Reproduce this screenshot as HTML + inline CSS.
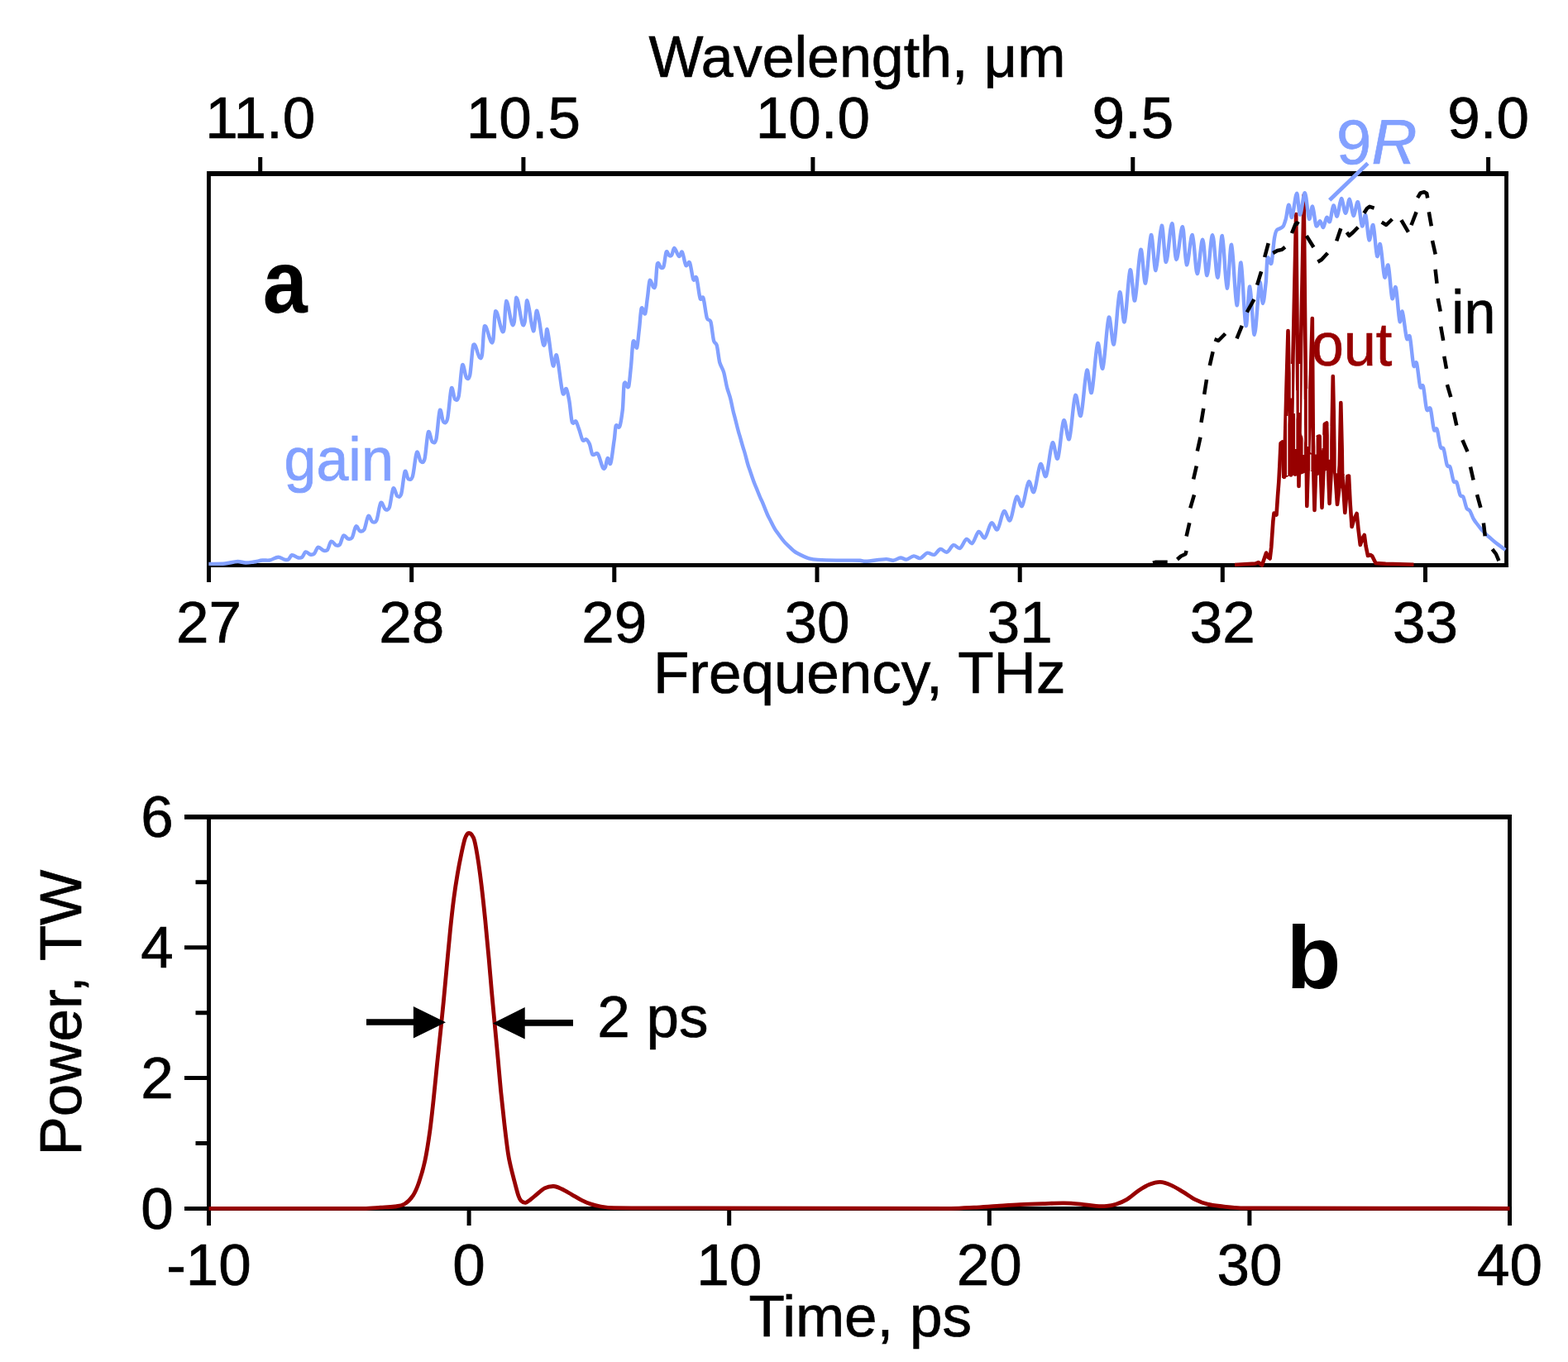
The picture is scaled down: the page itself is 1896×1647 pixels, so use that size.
<!DOCTYPE html>
<html lang="en"><head><meta charset="utf-8"><title>Gain spectrum and pulse</title>
<style>html,body{margin:0;padding:0;background:#fff;overflow:hidden}svg{display:block}text{font-family:"Liberation Sans", Arial, Helvetica, sans-serif;stroke:#000;stroke-width:0.7px} text.bf{stroke:none} text.bl{stroke:#82A0FF} text.rd{stroke:#970000}</style></head><body>
<svg width="1896" height="1647" viewBox="0 0 1896 1647">
<rect width="1896" height="1647" fill="#fff"/>
<path d="M250,210H1824" stroke="#000" stroke-width="6"/>
<path d="M250,683.45H1824" stroke="#000" stroke-width="5.1"/>
<path d="M252.45,207V686" stroke="#000" stroke-width="4.9"/>
<path d="M1821.5,207V686" stroke="#000" stroke-width="4.8"/>
<path d="M252.5,683.5V704M497.7,683.5V704M742.8,683.5V704M988.0,683.5V704M1233.2,683.5V704M1478.3,683.5V704M1723.5,683.5V704M314.7,210.0V190M632.9,210.0V190M982.9,210.0V190M1369.8,210.0V190M1799.6,210.0V190" stroke="#000" stroke-width="5"/>
<polygon points="1549.0,540.0 1553.0,540.0 1556.0,520.0 1559.0,500.0 1562.0,500.0 1566.0,500.0 1571.4,520.0 1576.0,530.0 1581.2,545.0 1586.0,548.0 1591.0,552.0 1595.0,540.0 1599.0,545.0 1603.0,535.0 1607.5,558.0 1611.5,540.0 1616.3,573.0 1621.0,545.0 1626.0,588.0 1630.0,585.0 1630.0,598.0 1620.9,590.0 1611.6,571.0 1603.4,569.0 1593.5,575.0 1584.3,569.0 1575.0,573.0 1566.0,576.0 1561.5,574.0 1556.0,577.0 1550.0,578.0" fill="#970000"/>
<polyline points="1493.0,683.0 1518.0,681.5 1521.6,680.0 1526.0,683.5 1531.1,668.5 1533.5,674.0 1535.6,675.5 1537.2,662.0 1539.4,630.0 1540.5,620.5 1543.5,622.5 1545.0,600.0 1546.3,583.0 1547.5,560.0 1548.6,536.0 1550.5,534.5 1552.2,536.0 1552.8,577.0 1555.5,470.0 1557.5,400.0 1561.0,574.5 1563.5,430.0 1567.2,259.0 1570.5,588.0 1573.0,420.0 1576.6,236.0 1580.3,612.0 1583.0,520.0 1586.8,385.0 1588.0,560.0 1589.5,617.0 1591.8,548.0 1593.6,528.0 1595.6,527.5 1597.0,572.0 1598.5,614.0 1600.6,565.0 1601.8,513.0 1604.2,511.5 1605.5,552.0 1607.6,609.0 1609.6,572.0 1611.8,455.0 1614.2,568.0 1617.0,610.0 1619.2,592.0 1621.3,487.0 1623.5,578.0 1626.3,620.0 1628.2,598.0 1629.3,576.0 1631.0,575.5 1632.6,608.0 1634.6,637.0 1637.2,628.0 1640.6,621.0 1642.5,640.0 1644.8,659.0 1647.5,651.0 1649.8,647.0 1651.5,660.0 1654.0,672.0 1657.0,671.0 1659.3,672.5 1661.0,676.0 1663.5,681.0 1675.5,681.8 1709.5,682.8" fill="none" stroke="#970000" stroke-width="4.6" stroke-linejoin="round"/>
<path d="M1561.4,440.0V481.6M1566.7,472.0V543.0M1571.4,440.0V499.0M1576.2,483.0V550.0M1581.4,470.0V540.0M1556.7,503.0V575.0M1584.8,549.5V569.0M1591.0,528.0V549.5M1598.9,525.7V542.0M1607.5,515.0V555.7M1616.3,495.0V572.2M1626.2,540.0V573.0" stroke="#fff" stroke-width="1.3"/>
<path d="M252.40,681.90C258.93,681.79 265.47,681.96 272.00,681.50C277.17,681.14 282.33,679.18 287.50,679.00C290.67,678.89 293.83,680.43 297.00,680.50C300.33,680.57 303.67,679.91 307.00,679.50C310.50,679.06 314.00,677.81 317.50,677.50C320.33,677.25 323.17,677.98 326.00,677.50C329.50,676.90 333.00,673.79 336.50,673.70C339.33,673.62 342.17,676.37 345.00,676.90C346.30,677.15 347.60,677.25 348.90,676.45C350.20,675.66 351.50,671.48 352.80,671.30C355.47,670.93 358.13,674.02 360.80,674.50C362.25,674.76 363.70,674.94 365.15,673.93C366.60,672.93 368.05,667.83 369.50,667.40C371.33,666.86 373.17,670.13 375.00,670.50C376.58,670.82 378.17,671.04 379.75,669.80C381.33,668.57 382.92,662.25 384.50,661.80C386.87,661.12 389.23,665.25 391.60,665.80C393.05,666.13 394.50,666.48 395.95,664.91C397.40,663.34 398.85,655.33 400.30,654.70C402.40,653.79 404.50,658.86 406.60,659.50C408.05,659.95 409.50,660.23 410.95,658.55C412.40,656.86 413.85,648.47 415.30,647.60C417.17,646.48 419.03,651.09 420.90,651.50C422.48,651.85 424.07,652.42 425.65,650.30C427.23,648.17 428.82,637.67 430.40,636.50C431.97,635.34 433.53,641.54 435.10,642.10C436.82,642.71 438.53,643.22 440.25,640.64C441.97,638.07 443.68,625.31 445.40,623.90C447.00,622.58 448.60,630.28 450.20,631.00C451.90,631.77 453.60,632.42 455.30,629.16C457.00,625.90 458.70,609.78 460.40,608.00C462.27,606.05 464.13,615.09 466.00,616.00C467.58,616.78 469.17,617.57 470.75,613.97C472.33,610.37 473.92,592.53 475.50,590.60C477.17,588.57 478.83,598.97 480.50,600.00C482.03,600.95 483.57,601.85 485.10,597.60C486.63,593.35 488.17,572.85 489.70,570.00C491.00,567.58 492.30,578.22 493.60,579.00C495.33,580.04 497.07,580.98 498.80,576.43C500.53,571.88 502.27,549.57 504.00,546.90C505.63,544.38 507.27,556.87 508.90,558.10C510.40,559.23 511.90,560.30 513.40,555.25C514.90,550.21 516.40,525.33 517.90,522.50C519.53,519.42 521.17,533.10 522.80,534.40C524.32,535.60 525.83,536.77 527.35,531.33C528.87,525.89 530.38,499.14 531.90,496.00C533.30,493.10 534.70,508.59 536.10,510.00C537.73,511.64 539.37,512.50 541.00,506.75C542.63,501.00 544.27,473.07 545.90,469.40C547.30,466.25 548.70,481.33 550.10,482.70C551.60,484.17 553.10,485.24 554.60,479.40C556.10,473.57 557.60,444.57 559.10,441.50C560.73,438.16 562.37,454.95 564.00,456.80C565.40,458.38 566.80,459.25 568.20,453.62C569.60,447.98 571.00,419.12 572.40,417.00C574.97,413.11 577.53,429.83 580.10,432.40C581.03,433.34 581.97,434.72 582.90,429.38C583.83,424.04 584.77,395.84 585.70,394.70C588.47,391.33 591.23,410.03 594.00,413.50C594.82,414.52 595.63,415.78 596.45,410.54C597.27,405.30 598.08,377.16 598.90,376.50C601.70,374.25 604.50,395.65 607.30,400.30C608.07,401.57 608.83,402.54 609.60,397.40C610.37,392.25 611.13,364.37 611.90,364.00C614.33,362.82 616.77,386.61 619.20,391.90C620.07,393.78 620.93,393.88 621.80,389.33C622.67,384.78 623.53,359.61 624.40,359.80C626.87,360.34 629.33,385.74 631.80,391.90C632.72,394.19 633.63,393.66 634.55,389.61C635.47,385.56 636.38,362.50 637.30,363.30C639.87,365.53 642.43,398.01 645.00,400.30C646.40,401.55 647.80,374.20 649.20,375.80C651.77,378.73 654.33,407.78 656.90,416.30C657.67,418.84 658.43,417.42 659.20,414.85C659.97,412.29 660.73,396.34 661.50,398.20C663.93,404.09 666.37,436.55 668.80,442.20C670.20,445.45 671.60,426.22 673.00,429.60C675.53,435.71 678.07,468.31 680.60,475.70C682.00,479.78 683.40,468.80 684.80,470.10C685.93,471.15 687.07,478.45 688.20,484.00C689.40,489.87 690.60,507.23 691.80,510.40C693.33,514.45 694.87,508.20 696.40,509.50C697.60,510.52 698.80,515.76 700.00,518.60C701.53,522.22 703.07,530.47 704.60,532.30C706.10,534.09 707.60,530.70 709.10,531.40C710.33,531.98 711.57,534.19 712.80,536.80C714.00,539.34 715.20,548.39 716.40,549.60C718.53,551.76 720.67,546.38 722.80,548.70C724.93,551.02 727.07,562.74 729.20,566.00C730.10,567.37 731.00,566.73 731.90,565.05C732.80,563.36 733.70,554.64 734.60,554.10C735.83,553.36 737.07,563.40 738.30,560.50C739.80,556.97 741.30,540.46 742.80,531.40C743.43,527.57 744.07,516.30 744.70,515.00C746.20,511.91 747.70,519.03 749.20,515.90C750.43,513.33 751.67,504.79 752.90,494.90C753.50,490.09 754.10,465.93 754.70,464.00C756.50,458.20 758.30,471.35 760.10,467.60C761.03,465.66 761.97,451.78 762.90,443.90C763.80,436.31 764.70,415.47 765.60,413.00C767.13,408.79 768.67,422.91 770.20,420.30C771.10,418.77 772.00,405.11 772.90,398.40C773.80,391.68 774.70,374.90 775.60,372.90C777.13,369.49 778.67,381.59 780.20,379.30C781.10,377.96 782.00,365.78 782.90,360.10C783.80,354.42 784.70,340.53 785.60,339.20C787.13,336.93 788.67,346.28 790.20,347.40C790.97,347.96 791.73,349.14 792.50,345.14C793.27,341.15 794.03,321.26 794.80,319.20C796.30,315.18 797.80,323.21 799.30,323.70C800.37,324.05 801.43,324.88 802.50,322.17C803.57,319.47 804.63,306.34 805.70,304.60C806.90,302.64 808.10,308.51 809.30,309.10C810.28,309.58 811.27,309.66 812.25,308.37C813.23,307.08 814.22,299.85 815.20,300.00C817.20,300.31 819.20,309.19 821.20,310.00C822.40,310.49 823.60,303.23 824.80,304.60C826.33,306.35 827.87,319.18 829.40,321.00C830.90,322.78 832.40,314.88 833.90,317.30C835.43,319.78 836.97,335.39 838.50,338.30C839.70,340.58 840.90,332.76 842.10,335.60C843.63,339.22 845.17,357.21 846.70,361.10C847.90,364.15 849.10,357.16 850.30,360.10C851.83,363.85 853.37,380.52 854.90,384.70C856.40,388.79 857.90,385.04 859.40,389.30C860.63,392.80 861.87,408.05 863.10,412.10C864.30,416.04 865.50,413.76 866.70,417.50C867.90,421.24 869.10,434.53 870.30,438.50C871.83,443.57 873.37,444.94 874.90,449.40C876.43,453.86 877.97,464.90 879.50,470.00C880.60,473.66 881.70,476.69 882.80,480.30C884.30,485.22 885.80,494.95 887.30,500.10C889.57,507.87 891.83,518.95 894.10,525.90C895.90,531.42 897.70,538.81 899.50,544.10C901.50,549.98 903.50,559.99 905.50,565.30C908.03,572.03 910.57,581.00 913.10,586.60C915.63,592.20 918.17,599.72 920.70,604.80C923.73,610.88 926.77,620.63 929.80,626.00C932.83,631.37 935.87,638.82 938.90,642.70C942.93,647.86 946.97,654.26 951.00,657.90C955.07,661.57 959.13,666.30 963.20,668.50C968.27,671.23 973.33,673.90 978.40,675.30C981.93,676.28 985.47,676.69 989.00,676.90C996.57,677.34 1004.13,677.50 1011.70,677.60C1021.13,677.73 1030.57,677.42 1040.00,677.70C1042.10,677.76 1044.20,678.89 1046.30,678.80C1054.73,678.44 1063.17,676.33 1071.60,676.10C1074.43,676.02 1077.27,677.92 1080.10,677.70C1083.07,677.47 1086.03,674.68 1089.00,674.50C1091.30,674.36 1093.60,676.86 1095.90,676.60C1098.90,676.26 1101.90,672.63 1104.90,672.40C1107.53,672.20 1110.17,675.61 1112.80,675.10C1115.60,674.56 1118.40,669.31 1121.20,668.70C1124.03,668.09 1126.87,671.52 1129.70,670.80C1132.13,670.18 1134.57,664.42 1137.00,664.00C1139.67,663.54 1142.33,668.38 1145.00,667.70C1147.63,667.02 1150.27,659.88 1152.90,659.20C1155.53,658.52 1158.17,663.93 1160.80,662.90C1163.43,661.87 1166.07,652.78 1168.70,651.90C1170.97,651.14 1173.23,658.27 1175.50,657.10C1178.17,655.72 1180.83,643.91 1183.50,642.90C1185.93,641.98 1188.37,651.73 1190.80,650.30C1193.47,648.73 1196.13,633.78 1198.80,632.30C1201.23,630.95 1203.67,642.23 1206.10,640.30C1208.73,638.21 1211.37,619.72 1214.00,618.10C1216.47,616.58 1218.93,631.58 1221.40,629.20C1224.03,626.65 1226.67,603.36 1229.30,600.70C1231.50,598.48 1233.70,614.32 1235.90,612.00C1238.57,609.19 1241.23,585.31 1243.90,582.60C1246.00,580.47 1248.10,597.59 1250.20,594.90C1252.83,591.53 1255.47,564.13 1258.10,561.20C1260.33,558.72 1262.57,579.15 1264.80,575.80C1267.43,571.84 1270.07,538.76 1272.70,535.40C1274.80,532.72 1276.90,558.07 1279.00,554.50C1281.40,550.42 1283.80,511.86 1286.20,508.40C1288.43,505.18 1290.67,534.98 1292.90,530.90C1295.37,526.39 1297.83,482.31 1300.30,478.10C1302.50,474.35 1304.70,506.85 1306.90,502.80C1309.37,498.26 1311.83,452.33 1314.30,447.80C1316.17,444.37 1318.03,478.68 1319.90,474.70C1322.37,469.44 1324.83,419.74 1327.30,415.20C1329.33,411.46 1331.37,449.53 1333.40,445.50C1335.87,440.61 1338.33,388.24 1340.80,383.70C1342.83,379.96 1344.87,420.27 1346.90,416.30C1349.27,411.68 1351.63,357.64 1354.00,353.40C1355.90,349.99 1357.80,392.76 1359.70,389.30C1362.00,385.11 1364.30,330.44 1366.60,326.40C1368.47,323.13 1370.33,366.56 1372.20,363.50C1374.60,359.56 1377.00,305.02 1379.40,301.70C1381.30,299.07 1383.20,344.77 1385.10,342.50C1387.37,339.79 1389.63,286.52 1391.90,284.10C1393.77,282.10 1395.63,328.30 1397.50,326.90C1399.93,325.07 1402.37,274.33 1404.80,272.70C1406.50,271.56 1408.20,317.40 1409.90,317.10C1412.33,316.67 1414.77,270.62 1417.20,270.10C1418.90,269.74 1420.60,313.53 1422.30,314.00C1424.90,314.72 1427.50,273.20 1430.10,274.30C1431.63,274.95 1433.17,319.12 1434.70,320.20C1437.10,321.89 1439.50,282.39 1441.90,284.10C1443.80,285.45 1445.70,330.27 1447.60,331.00C1449.83,331.86 1452.07,289.37 1454.30,289.70C1456.03,289.96 1457.77,333.79 1459.50,333.10C1461.73,332.21 1463.97,283.72 1466.20,284.10C1468.27,284.45 1470.33,335.55 1472.40,335.70C1474.23,335.83 1476.07,283.32 1477.90,285.10C1479.83,286.98 1481.77,347.02 1483.70,348.60C1485.50,350.08 1487.30,293.25 1489.10,295.90C1491.27,299.09 1493.43,365.69 1495.60,369.20C1497.23,371.84 1498.87,314.44 1500.50,317.60C1502.50,321.47 1504.50,389.45 1506.50,394.00C1508.10,397.64 1509.70,345.07 1511.30,346.50C1513.13,348.13 1514.97,405.44 1516.80,404.80C1519.00,404.03 1521.20,348.43 1523.40,341.50C1524.60,337.72 1525.80,367.00 1527.00,367.00C1528.23,367.00 1529.47,351.93 1530.70,341.50C1531.30,336.43 1531.90,314.06 1532.50,312.30C1534.13,307.51 1535.77,322.37 1537.40,318.40C1538.60,315.48 1539.80,294.70 1541.00,288.00C1541.80,283.53 1542.60,280.36 1543.40,279.00C1544.47,277.19 1545.53,277.39 1546.60,276.80C1548.27,275.88 1549.93,275.77 1551.60,273.70C1552.67,272.37 1553.73,268.32 1554.80,264.80C1555.97,260.95 1557.13,247.96 1558.30,247.70C1559.57,247.42 1560.83,264.43 1562.10,262.90C1564.10,260.49 1566.10,234.36 1568.10,233.80C1569.37,233.45 1570.63,259.77 1571.90,259.70C1573.90,259.60 1575.90,232.42 1577.90,233.20C1579.60,233.86 1581.30,262.22 1583.00,264.80C1584.37,266.87 1585.73,248.48 1587.10,249.60C1588.57,250.80 1590.03,270.60 1591.50,273.00C1593.10,275.62 1594.70,267.00 1596.30,267.30C1597.57,267.54 1598.83,275.50 1600.10,274.90C1601.47,274.25 1602.83,263.91 1604.20,262.90C1605.47,261.96 1606.73,269.90 1608.00,268.00C1609.47,265.80 1610.93,249.31 1612.40,248.40C1613.87,247.49 1615.33,262.69 1616.80,261.60C1618.50,260.34 1620.20,240.64 1621.90,240.10C1623.60,239.56 1625.30,257.70 1627.00,257.80C1628.67,257.90 1630.33,240.32 1632.00,240.80C1633.50,241.23 1635.00,260.56 1636.50,261.00C1638.37,261.55 1640.23,242.43 1642.10,244.30C1643.73,245.94 1645.37,271.02 1647.00,273.40C1648.43,275.49 1649.87,257.66 1651.30,260.10C1652.70,262.48 1654.10,288.82 1655.50,290.40C1657.13,292.25 1658.77,269.41 1660.40,272.20C1662.00,274.93 1663.60,306.20 1665.20,309.90C1666.43,312.75 1667.67,292.36 1668.90,295.30C1670.70,299.59 1672.50,331.38 1674.30,335.40C1675.73,338.60 1677.17,317.39 1678.60,320.80C1680.20,324.61 1681.80,356.91 1683.40,360.90C1684.83,364.47 1686.27,343.81 1687.70,347.50C1689.33,351.71 1690.97,383.67 1692.60,388.80C1693.60,391.94 1694.60,374.63 1695.60,376.70C1697.43,380.50 1699.27,404.31 1701.10,409.50C1702.30,412.90 1703.50,402.97 1704.70,407.00C1706.27,412.26 1707.83,437.15 1709.40,442.30C1710.57,446.13 1711.73,435.50 1712.90,438.70C1714.37,442.72 1715.83,463.35 1717.30,467.80C1718.47,471.34 1719.63,463.47 1720.80,466.90C1722.27,471.21 1723.73,491.23 1725.20,495.10C1726.67,498.97 1728.13,490.72 1729.60,494.20C1731.07,497.69 1732.53,515.80 1734.00,519.70C1735.17,522.80 1736.33,516.27 1737.50,518.90C1739.00,522.28 1740.50,537.12 1742.00,540.90C1743.17,543.84 1744.33,539.84 1745.50,542.60C1746.97,546.07 1748.43,559.43 1749.90,562.90C1751.07,565.66 1752.23,562.16 1753.40,564.60C1754.87,567.66 1756.33,579.38 1757.80,582.30C1758.97,584.62 1760.13,581.00 1761.30,583.10C1762.77,585.74 1764.23,596.22 1765.70,599.00C1766.87,601.21 1768.03,598.72 1769.20,600.70C1770.67,603.19 1772.13,612.18 1773.60,614.80C1774.80,616.94 1776.00,615.92 1777.20,617.50C1778.67,619.43 1780.13,624.85 1781.60,627.20C1782.77,629.07 1783.93,631.08 1785.10,632.40C1787.43,635.04 1789.77,638.96 1792.10,641.20C1794.47,643.47 1796.83,646.48 1799.20,648.30C1802.70,650.99 1806.20,654.75 1809.70,657.10C1813.23,659.48 1816.77,662.76 1820.30,665.00" fill="none" stroke="#82A0FF" stroke-width="4.4" stroke-linejoin="round"/>
<polyline points="1394.0,680.6 1397.0,679.8 1411.7,679.8" fill="none" stroke="#000" stroke-width="4.5" stroke-linejoin="round"/>
<polyline points="1423.5,676.5 1428.0,672.5 1433.5,670.0 1434.6,666.0" fill="none" stroke="#000" stroke-width="4.5" stroke-linejoin="round"/>
<polyline points="1434.6,648.5 1438.3,632.2" fill="none" stroke="#000" stroke-width="4.5" stroke-linejoin="round"/>
<polyline points="1439.3,614.3 1444.0,598.3" fill="none" stroke="#000" stroke-width="4.5" stroke-linejoin="round"/>
<polyline points="1443.1,579.5 1446.8,563.5" fill="none" stroke="#000" stroke-width="4.5" stroke-linejoin="round"/>
<polyline points="1447.8,545.6 1451.5,528.7" fill="none" stroke="#000" stroke-width="4.5" stroke-linejoin="round"/>
<polyline points="1452.5,510.8 1455.3,493.9" fill="none" stroke="#000" stroke-width="4.5" stroke-linejoin="round"/>
<polyline points="1456.2,476.9 1459.0,459.0" fill="none" stroke="#000" stroke-width="4.5" stroke-linejoin="round"/>
<polyline points="1462.8,442.1 1466.6,425.2" fill="none" stroke="#000" stroke-width="4.5" stroke-linejoin="round"/>
<polyline points="1468.5,410.1 1473.2,412.0 1481.6,403.5" fill="none" stroke="#000" stroke-width="4.5" stroke-linejoin="round"/>
<polyline points="1495.5,409.4 1501.8,393.9" fill="none" stroke="#000" stroke-width="4.5" stroke-linejoin="round"/>
<polyline points="1507.8,377.5 1516.4,362.0" fill="none" stroke="#000" stroke-width="4.5" stroke-linejoin="round"/>
<polyline points="1520.1,344.7 1525.1,328.3" fill="none" stroke="#000" stroke-width="4.5" stroke-linejoin="round"/>
<polyline points="1529.2,311.0 1533.7,294.1" fill="none" stroke="#000" stroke-width="4.5" stroke-linejoin="round"/>
<polyline points="1539.2,306.0 1544.7,303.0 1550.1,301.9 1553.8,298.7" fill="none" stroke="#000" stroke-width="4.5" stroke-linejoin="round"/>
<polyline points="1562.0,282.0 1566.0,272.0 1568.0,269.5 1570.6,271.0" fill="none" stroke="#000" stroke-width="4.5" stroke-linejoin="round"/>
<polyline points="1579.8,285.1 1588.4,299.0" fill="none" stroke="#000" stroke-width="4.5" stroke-linejoin="round"/>
<polyline points="1593.4,316.7 1598.0,314.0 1605.4,306.0" fill="none" stroke="#000" stroke-width="4.5" stroke-linejoin="round"/>
<polyline points="1616.2,291.4 1621.3,276.2" fill="none" stroke="#000" stroke-width="4.5" stroke-linejoin="round"/>
<polyline points="1628.5,281.0 1631.4,285.0 1636.0,281.0 1642.1,274.7" fill="none" stroke="#000" stroke-width="4.5" stroke-linejoin="round"/>
<polyline points="1649.4,257.7 1653.0,252.0 1656.1,249.8 1661.6,251.6" fill="none" stroke="#000" stroke-width="4.5" stroke-linejoin="round"/>
<polyline points="1670.7,268.6 1676.2,272.0 1683.4,265.0" fill="none" stroke="#000" stroke-width="4.5" stroke-linejoin="round"/>
<polyline points="1694.4,266.2 1702.9,280.7" fill="none" stroke="#000" stroke-width="4.5" stroke-linejoin="round"/>
<polyline points="1706.5,272.2 1712.6,256.4" fill="none" stroke="#000" stroke-width="4.5" stroke-linejoin="round"/>
<polyline points="1714.1,239.2 1717.5,233.5 1722.2,232.2 1725.2,234.0 1726.2,239.5" fill="none" stroke="#000" stroke-width="4.5" stroke-linejoin="round"/>
<polyline points="1727.8,256.4 1730.8,273.4" fill="none" stroke="#000" stroke-width="4.5" stroke-linejoin="round"/>
<polyline points="1732.0,291.0 1735.7,307.5" fill="none" stroke="#000" stroke-width="4.5" stroke-linejoin="round"/>
<polyline points="1735.6,325.7 1737.5,342.7" fill="none" stroke="#000" stroke-width="4.5" stroke-linejoin="round"/>
<polyline points="1738.7,360.9 1741.7,376.7" fill="none" stroke="#000" stroke-width="4.5" stroke-linejoin="round"/>
<polyline points="1742.2,394.9 1745.2,411.9" fill="none" stroke="#000" stroke-width="4.5" stroke-linejoin="round"/>
<polyline points="1746.3,430.8 1749.0,445.8" fill="none" stroke="#000" stroke-width="4.5" stroke-linejoin="round"/>
<polyline points="1749.9,465.2 1754.3,480.1" fill="none" stroke="#000" stroke-width="4.5" stroke-linejoin="round"/>
<polyline points="1757.8,498.6 1761.3,514.5" fill="none" stroke="#000" stroke-width="4.5" stroke-linejoin="round"/>
<polyline points="1768.4,532.1 1774.5,546.2" fill="none" stroke="#000" stroke-width="4.5" stroke-linejoin="round"/>
<polyline points="1778.0,564.6 1781.6,580.5" fill="none" stroke="#000" stroke-width="4.5" stroke-linejoin="round"/>
<polyline points="1786.0,598.1 1790.4,613.9" fill="none" stroke="#000" stroke-width="4.5" stroke-linejoin="round"/>
<polyline points="1793.9,632.4 1795.7,648.3" fill="none" stroke="#000" stroke-width="4.5" stroke-linejoin="round"/>
<polyline points="1804.5,664.1 1809.0,670.0 1812.4,678.2" fill="none" stroke="#000" stroke-width="4.5" stroke-linejoin="round"/>
<line x1="1607.7" y1="241.9" x2="1653.9" y2="197.6" stroke="#82A0FF" stroke-width="4.8"/>
<text x="784.4" y="93" font-size="71" textLength="504" lengthAdjust="spacingAndGlyphs">Wavelength, μm</text>
<text x="314.7" y="167" font-size="71" text-anchor="middle">11.0</text>
<text x="632.9" y="167" font-size="71" text-anchor="middle">10.5</text>
<text x="982.9" y="167" font-size="71" text-anchor="middle">10.0</text>
<text x="1369.8" y="167" font-size="71" text-anchor="middle">9.5</text>
<text x="1799.6" y="167" font-size="71" text-anchor="middle">9.0</text>
<text x="252.5" y="776.5" font-size="71" text-anchor="middle">27</text>
<text x="497.7" y="776.5" font-size="71" text-anchor="middle">28</text>
<text x="742.8" y="776.5" font-size="71" text-anchor="middle">29</text>
<text x="988.0" y="776.5" font-size="71" text-anchor="middle">30</text>
<text x="1233.2" y="776.5" font-size="71" text-anchor="middle">31</text>
<text x="1478.3" y="776.5" font-size="71" text-anchor="middle">32</text>
<text x="1723.5" y="776.5" font-size="71" text-anchor="middle">33</text>
<text x="789.9" y="838.4" font-size="71">Frequency, THz</text>
<text x="317.7" y="378" font-size="108" font-weight="bold" class="bf" transform="translate(317.7 0) scale(0.9 1) translate(-317.7 0)">a</text>
<text class="bl" font-size="71" fill="#82A0FF" transform="translate(343.6 580.8) scale(0.985 1.05)">gain</text>
<text class="bl" x="1616.1" y="197.8" font-size="76" fill="#82A0FF">9<tspan font-style="italic">R</tspan></text>
<text font-size="71" transform="translate(1755.3 402.7) scale(0.96 1.035)">in</text>
<text class="rd" font-size="71" fill="#970000" transform="translate(1585.7 442.2) scale(0.99 1.05)">out</text>
<path d="M223,987.85H1828" stroke="#000" stroke-width="5.7"/>
<path d="M250,1461.5H1828" stroke="#000" stroke-width="5"/>
<path d="M252.5,985V1464" stroke="#000" stroke-width="5"/>
<path d="M1825.5,985V1464" stroke="#000" stroke-width="4.9"/>
<path d="M223,1461.5H252.5M236.5,1382.5H252.5M223,1303.6H252.5M236.5,1224.7H252.5M223,1145.7H252.5M236.5,1066.8H252.5M223,987.8H252.5M252.5,1461.5V1482M567.1,1461.5V1482M881.7,1461.5V1482M1196.3,1461.5V1482M1510.9,1461.5V1482M1825.5,1461.5V1482" stroke="#000" stroke-width="5"/>
<path d="M252.50,1461.30C315.00,1461.30 377.50,1461.63 440.00,1461.30C446.67,1461.26 453.33,1460.61 460.00,1460.20C465.83,1459.84 471.67,1459.84 477.50,1459.00C481.37,1458.44 485.23,1458.32 489.10,1456.00C492.50,1453.96 495.90,1450.99 499.30,1445.90C501.73,1442.26 504.17,1436.85 506.60,1429.80C509.03,1422.75 511.47,1414.95 513.90,1403.60C515.83,1394.58 517.77,1382.50 519.70,1368.70C521.17,1358.23 522.63,1344.40 524.10,1330.80C525.57,1317.20 527.03,1301.35 528.50,1287.10C529.93,1273.18 531.37,1260.21 532.80,1246.30C533.97,1234.98 535.13,1223.50 536.30,1211.40C537.57,1198.26 538.83,1184.10 540.10,1170.60C541.57,1154.97 543.03,1138.25 544.50,1124.00C545.93,1110.08 547.37,1097.14 548.80,1086.10C550.27,1074.80 551.73,1065.73 553.20,1057.00C554.67,1048.27 556.13,1040.73 557.60,1033.70C559.07,1026.67 560.53,1019.79 562.00,1014.80C563.00,1011.39 564.00,1009.90 565.00,1008.50C565.73,1007.47 566.47,1007.43 567.20,1007.50C568.13,1007.59 569.07,1007.73 570.00,1009.00C571.20,1010.63 572.40,1011.62 573.60,1016.20C575.07,1021.79 576.53,1030.16 578.00,1039.50C579.43,1048.63 580.87,1059.61 582.30,1071.60C583.77,1083.87 585.23,1097.73 586.70,1112.30C588.17,1126.87 589.63,1142.77 591.10,1159.00C592.27,1171.91 593.43,1186.67 594.60,1199.70C595.87,1213.84 597.13,1226.90 598.40,1240.50C599.67,1254.10 600.93,1267.45 602.20,1281.30C603.33,1293.69 604.47,1307.78 605.60,1319.20C607.07,1333.98 608.53,1347.28 610.00,1359.90C611.47,1372.52 612.93,1384.97 614.40,1394.90C615.40,1401.67 616.40,1405.63 617.40,1410.00C619.00,1416.99 620.60,1422.94 622.20,1429.00C623.77,1434.94 625.33,1441.38 626.90,1446.00C627.93,1449.05 628.97,1451.01 630.00,1452.00C631.87,1453.78 633.73,1454.47 635.60,1454.30C637.40,1454.14 639.20,1452.32 641.00,1451.00C643.17,1449.42 645.33,1447.35 647.50,1445.60C651.17,1442.65 654.83,1438.74 658.50,1436.90C662.20,1435.04 665.90,1434.36 669.60,1434.50C672.77,1434.62 675.93,1436.23 679.10,1437.70C683.33,1439.66 687.57,1442.41 691.80,1444.80C695.47,1446.87 699.13,1449.26 702.80,1451.10C706.50,1452.96 710.20,1454.67 713.90,1455.90C718.13,1457.31 722.37,1458.30 726.60,1459.00C731.87,1459.87 737.13,1460.52 742.40,1460.60C777.20,1461.12 812.00,1460.74 846.80,1460.80C947.87,1460.97 1048.93,1461.48 1150.00,1461.30C1159.23,1461.28 1168.47,1460.68 1177.70,1460.20C1186.93,1459.72 1196.17,1458.98 1205.40,1458.40C1214.63,1457.82 1223.87,1457.17 1233.10,1456.70C1242.33,1456.23 1251.57,1455.91 1260.80,1455.60C1269.40,1455.31 1278.00,1454.79 1286.60,1454.90C1293.37,1454.99 1300.13,1455.59 1306.90,1456.20C1313.07,1456.76 1319.23,1457.97 1325.40,1458.40C1329.70,1458.70 1334.00,1458.79 1338.30,1458.40C1342.00,1458.06 1345.70,1457.40 1349.40,1456.20C1353.70,1454.80 1358.00,1453.19 1362.30,1450.60C1367.23,1447.63 1372.17,1442.78 1377.10,1439.50C1381.40,1436.64 1385.70,1433.88 1390.00,1432.20C1394.30,1430.52 1398.60,1429.25 1402.90,1429.40C1407.20,1429.55 1411.50,1431.24 1415.80,1433.10C1420.73,1435.24 1425.67,1438.48 1430.60,1441.40C1435.53,1444.32 1440.47,1448.12 1445.40,1450.60C1450.30,1453.06 1455.20,1454.98 1460.10,1456.20C1466.27,1457.74 1472.43,1458.19 1478.60,1458.90C1485.73,1459.72 1492.87,1460.75 1500.00,1460.80C1608.50,1461.55 1717.00,1461.13 1825.50,1461.30" fill="none" stroke="#970000" stroke-width="4.8" stroke-linejoin="round"/>
<text x="209.7" y="1485.5" font-size="71" text-anchor="end">0</text>
<text x="209.7" y="1327.6" font-size="71" text-anchor="end">2</text>
<text x="209.7" y="1169.7" font-size="71" text-anchor="end">4</text>
<text x="209.7" y="1011.8" font-size="71" text-anchor="end">6</text>
<text x="252.5" y="1553.8" font-size="71" text-anchor="middle">-10</text>
<text x="567.1" y="1553.8" font-size="71" text-anchor="middle">0</text>
<text x="881.7" y="1553.8" font-size="71" text-anchor="middle">10</text>
<text x="1196.3" y="1553.8" font-size="71" text-anchor="middle">20</text>
<text x="1510.9" y="1553.8" font-size="71" text-anchor="middle">30</text>
<text x="1825.5" y="1553.8" font-size="71" text-anchor="middle">40</text>
<text x="905.4" y="1616" font-size="71">Time, ps</text>
<text transform="translate(97.8 1397.6) rotate(-90)" font-size="71">Power, TW</text>
<text x="1555.4" y="1195" font-size="108" font-weight="bold" class="bf">b</text>
<text x="722.3" y="1253.8" font-size="71">2 ps</text>
<path d="M443,1232.2H501V1239.8H443Z M499.9,1217L539,1236.2L499.9,1255.4Z" fill="#000"/>
<path d="M693,1233.1H633V1240.8H693Z M634.7,1218L595.8,1237.4L634.7,1256.4Z" fill="#000"/>
</svg></body></html>
